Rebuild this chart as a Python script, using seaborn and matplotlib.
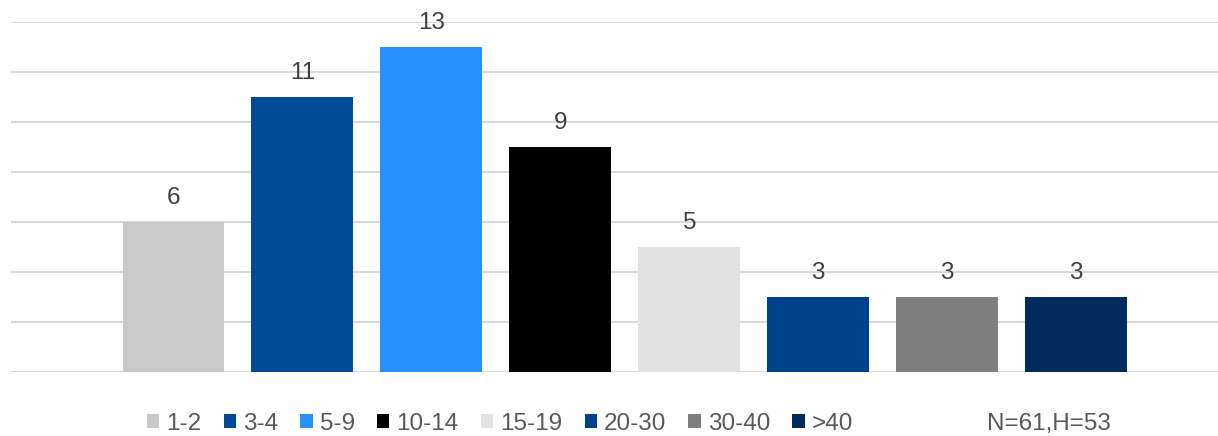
import matplotlib
matplotlib.use("Agg")
import matplotlib.pyplot as plt
from matplotlib.patches import Patch
import seaborn as sns
import pandas as pd

categories = ["1-2", "3-4", "5-9", "10-14", "15-19", "20-30", "30-40", ">40"]
counts = [6, 11, 13, 9, 5, 3, 3, 3]
colors = ["#C9C9C9", "#004A98", "#2990FF", "#000000", "#E2E2E2", "#00428A", "#7F7F7F", "#002B5C"]
note = "N=61,H=53"

sns.set_theme(style="white")
plt.rcParams["font.family"] = ["Liberation Sans", "DejaVu Sans"]

W, H = 1218, 436
FS = 17.5
fig = plt.figure(figsize=(W / 100, H / 100), dpi=100)
ax = fig.add_axes([11 / W, (H - 372) / H, (W - 11) / W, (372 - 22) / H])

df = pd.DataFrame({"group": categories, "count": counts})
sns.barplot(data=df, x="group", y="count", hue="group", palette=colors,
            order=categories, hue_order=categories, width=0.79,
            legend=False, saturation=1, linewidth=0, ax=ax)

ax.set_ylim(0, 14)
ax.set_xlim(-1.26, 7 + 1.10)
ax.set_yticks(range(0, 15, 2))
ax.yaxis.grid(True, color="#D9D9D9", linewidth=1.5)
ax.set_axisbelow(True)
for s in ax.spines.values():
    s.set_visible(False)
ax.tick_params(left=False, bottom=False, labelleft=False, labelbottom=False)
ax.set_xlabel("")
ax.set_ylabel("")

for i, v in enumerate(counts):
    ax.annotate(str(v), (i, v), xytext=(0, 9.5), textcoords="offset points",
                ha="center", va="bottom", fontsize=FS, color="#404040")

handles = [Patch(facecolor=c, edgecolor="none") for c in colors]
fig.legend(handles, categories, loc="center", bbox_to_anchor=(500 / W, 1 - 424 / H),
           ncol=len(categories), frameon=False, fontsize=FS, labelcolor="#595959",
           handlelength=0.5, handleheight=0.5, handletextpad=0.29,
           columnspacing=0.92, borderpad=0)
fig.text(1049 / W, 1 - 424 / H, note, ha="center", va="center",
         fontsize=FS, color="#595959")

fig.savefig("out.png", dpi=100)
